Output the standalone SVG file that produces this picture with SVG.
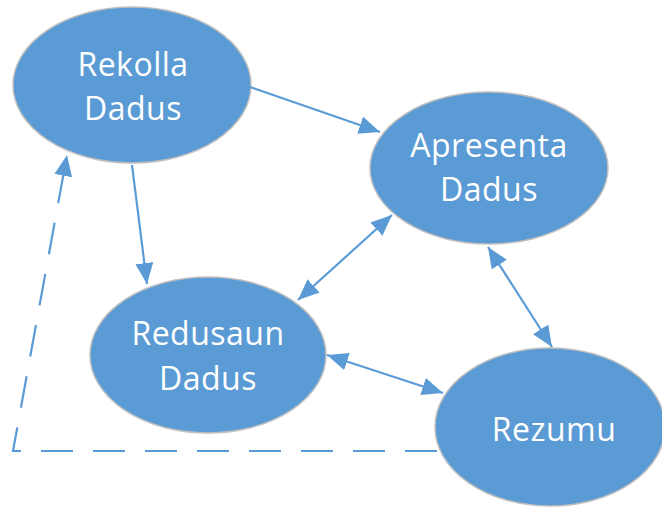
<svg xmlns="http://www.w3.org/2000/svg" width="662" height="508" viewBox="0 0 662 508">
<style>
.node{fill:#5B9BD5;stroke:#BFBFBF;stroke-width:1.5}
.lbl{fill:#fff;font-family:"Open Sans","Liberation Sans",sans-serif;font-size:32px;text-anchor:middle;letter-spacing:0.5px}
.c{stroke:#5B9BD5;stroke-width:2.2;fill:none}
</style>
<defs>
<marker id="ah" markerUnits="userSpaceOnUse" markerWidth="24" markerHeight="20" refX="21" refY="9" orient="auto-start-reverse" viewBox="0 0 24 20">
<path d="M0,0 L21,9 L0,18 z" fill="#5B9BD5"/>
</marker>
</defs>
<g id="n1"><ellipse class="node" cx="132" cy="85" rx="119" ry="78"/>
<text class="lbl" x="133" y="76">Rekolla</text><text class="lbl" x="133" y="120">Dadus</text></g>
<g id="n2"><ellipse class="node" cx="489" cy="168" rx="119" ry="76"/>
<text class="lbl" x="489" y="157">Apresenta</text><text class="lbl" x="489" y="201">Dadus</text></g>
<g id="n3"><ellipse class="node" cx="208" cy="355" rx="118" ry="78"/>
<text class="lbl" x="208" y="345">Redusaun</text><text class="lbl" x="208" y="390">Dadus</text></g>
<g id="n4"><ellipse class="node" cx="550" cy="427" rx="115" ry="79"/>
<text class="lbl" x="554" y="441">Rezumu</text></g>
<g id="connectors">
<line class="c" x1="250" y1="87" x2="380" y2="132" marker-end="url(#ah)"/>
<line class="c" x1="132" y1="165" x2="147" y2="284" marker-end="url(#ah)"/>
<line class="c" x1="392" y1="215" x2="298" y2="300" marker-start="url(#ah)" marker-end="url(#ah)"/>
<line class="c" x1="488" y1="247" x2="552" y2="347" marker-start="url(#ah)" marker-end="url(#ah)"/>
<line class="c" x1="327" y1="355" x2="443" y2="393" marker-start="url(#ah)" marker-end="url(#ah)"/>
<polyline class="c" points="437,451 13,451 67,155" stroke-dasharray="32 20" marker-end="url(#ah)"/>
</g>
</svg>
